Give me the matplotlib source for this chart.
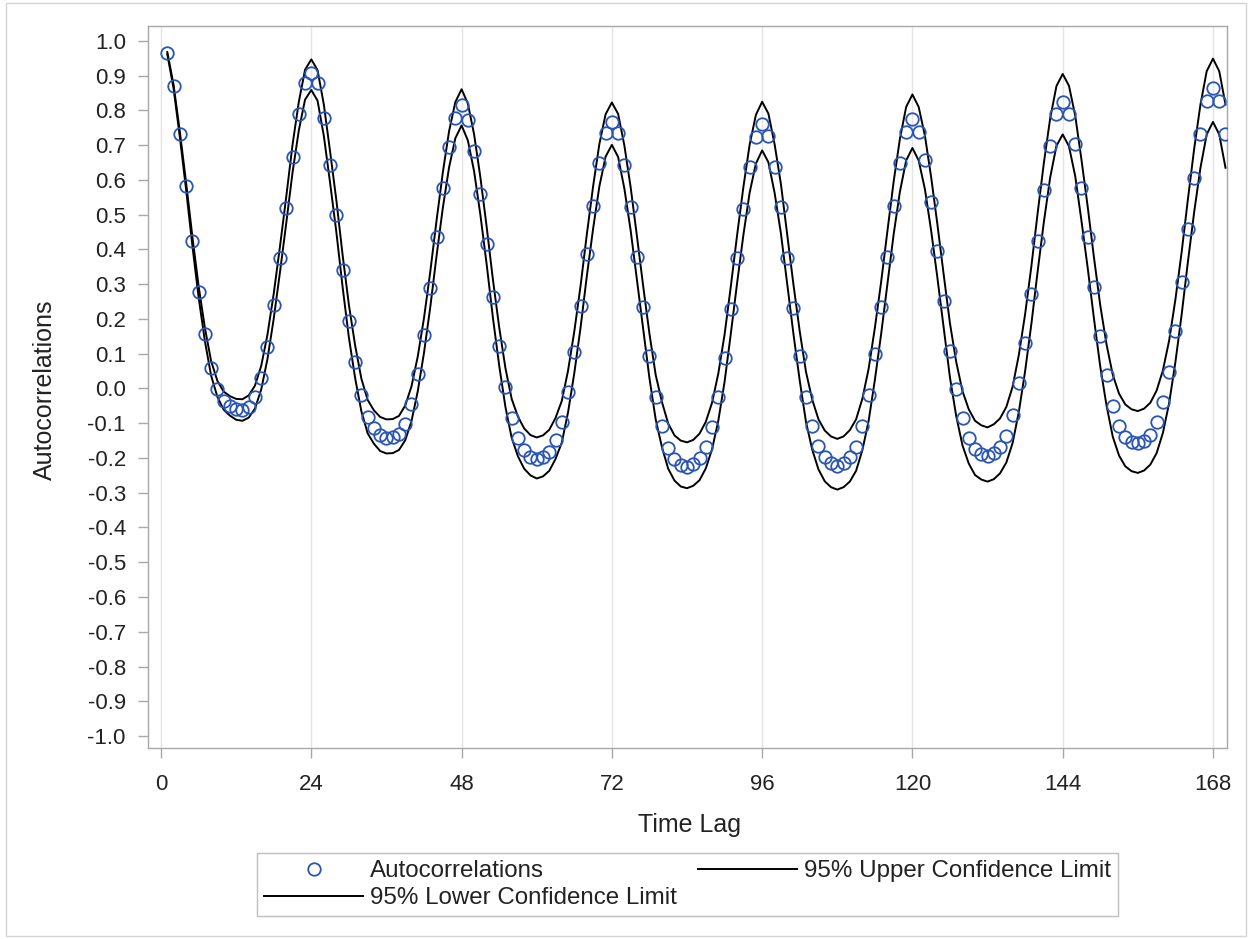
import numpy as np
import matplotlib
matplotlib.use("Agg")
import matplotlib.pyplot as plt
from matplotlib.lines import Line2D
from matplotlib.patches import Rectangle

plt.rcParams['font.family'] = ['Liberation Sans', 'DejaVu Sans']

# lags 1..170
lags = np.arange(1, 171)

acf = [
    0.965, 0.869, 0.732, 0.583, 0.425, 0.279, 0.156, 0.058, -0.001, -0.035,
    -0.050, -0.060, -0.062, -0.052, -0.025, 0.031, 0.120, 0.240, 0.375, 0.520,
    0.667, 0.789, 0.880, 0.909, 0.878, 0.778, 0.643, 0.499, 0.341, 0.194,
    0.077, -0.019, -0.081, -0.115, -0.135, -0.142, -0.141, -0.132, -0.103, -0.044,
    0.042, 0.153, 0.288, 0.435, 0.576, 0.694, 0.778, 0.815, 0.773, 0.684,
    0.560, 0.415, 0.262, 0.122, 0.003, -0.086, -0.142, -0.177, -0.196, -0.204,
    -0.198, -0.182, -0.148, -0.096, -0.009, 0.104, 0.238, 0.386, 0.526, 0.648,
    0.734, 0.768, 0.734, 0.643, 0.523, 0.379, 0.235, 0.094, -0.025, -0.108,
    -0.170, -0.204, -0.220, -0.225, -0.218, -0.201, -0.167, -0.112, -0.025, 0.087,
    0.229, 0.375, 0.516, 0.638, 0.723, 0.761, 0.727, 0.638, 0.523, 0.375,
    0.231, 0.094, -0.024, -0.108, -0.165, -0.198, -0.215, -0.222, -0.215, -0.198,
    -0.167, -0.108, -0.019, 0.099, 0.234, 0.379, 0.525, 0.648, 0.739, 0.775,
    0.739, 0.656, 0.536, 0.397, 0.253, 0.109, -0.002, -0.086, -0.142, -0.175,
    -0.188, -0.194, -0.186, -0.169, -0.137, -0.076, 0.015, 0.132, 0.272, 0.424,
    0.571, 0.698, 0.790, 0.824, 0.790, 0.704, 0.576, 0.437, 0.291, 0.151,
    0.039, -0.050, -0.108, -0.139, -0.153, -0.158, -0.151, -0.134, -0.096, -0.038,
    0.048, 0.166, 0.306, 0.458, 0.605, 0.732, 0.828, 0.864, 0.828, 0.732,
]

upper_cl = [
    0.968, 0.874, 0.740, 0.593, 0.438, 0.295, 0.175, 0.079, 0.022, -0.009,
    -0.022, -0.030, -0.031, -0.020, 0.008, 0.065, 0.155, 0.273, 0.409, 0.552,
    0.701, 0.824, 0.917, 0.947, 0.916, 0.817, 0.682, 0.542, 0.384, 0.241,
    0.124, 0.028, -0.033, -0.063, -0.082, -0.089, -0.088, -0.079, -0.049, 0.006,
    0.092, 0.203, 0.336, 0.483, 0.621, 0.740, 0.824, 0.861, 0.820, 0.731,
    0.608, 0.466, 0.314, 0.177, 0.059, -0.030, -0.081, -0.115, -0.134, -0.141,
    -0.135, -0.119, -0.085, -0.036, 0.051, 0.164, 0.295, 0.443, 0.581, 0.703,
    0.789, 0.823, 0.790, 0.699, 0.579, 0.439, 0.295, 0.158, 0.039, -0.039,
    -0.101, -0.135, -0.150, -0.155, -0.148, -0.130, -0.096, -0.041, 0.043, 0.155,
    0.294, 0.441, 0.579, 0.701, 0.787, 0.825, 0.791, 0.702, 0.588, 0.443,
    0.299, 0.165, 0.048, -0.032, -0.089, -0.121, -0.138, -0.145, -0.138, -0.120,
    -0.089, -0.030, 0.056, 0.174, 0.306, 0.452, 0.595, 0.718, 0.810, 0.846,
    0.810, 0.727, 0.607, 0.471, 0.327, 0.187, 0.076, -0.008, -0.060, -0.093,
    -0.106, -0.112, -0.103, -0.086, -0.053, 0.005, 0.097, 0.214, 0.352, 0.505,
    0.650, 0.777, 0.870, 0.905, 0.871, 0.785, 0.658, 0.522, 0.376, 0.239,
    0.127, 0.039, -0.015, -0.046, -0.060, -0.065, -0.058, -0.041, -0.006, 0.052,
    0.138, 0.256, 0.393, 0.545, 0.690, 0.817, 0.913, 0.949, 0.913, 0.817,
]

lower_cl = [
    0.962, 0.864, 0.724, 0.573, 0.412, 0.263, 0.137, 0.037, -0.024, -0.061,
    -0.078, -0.090, -0.093, -0.084, -0.058, -0.003, 0.085, 0.201, 0.335, 0.476,
    0.621, 0.742, 0.831, 0.859, 0.828, 0.727, 0.592, 0.450, 0.292, 0.147,
    0.030, -0.066, -0.129, -0.159, -0.180, -0.187, -0.186, -0.177, -0.149, -0.094,
    -0.008, 0.103, 0.234, 0.381, 0.519, 0.636, 0.720, 0.757, 0.714, 0.625,
    0.500, 0.358, 0.204, 0.067, -0.053, -0.142, -0.195, -0.231, -0.250, -0.259,
    -0.253, -0.237, -0.203, -0.156, -0.069, 0.044, 0.175, 0.323, 0.459, 0.581,
    0.667, 0.701, 0.666, 0.575, 0.455, 0.313, 0.169, 0.030, -0.089, -0.169,
    -0.231, -0.265, -0.282, -0.287, -0.280, -0.264, -0.230, -0.175, -0.093, 0.019,
    0.158, 0.303, 0.441, 0.563, 0.647, 0.685, 0.651, 0.562, 0.446, 0.301,
    0.157, 0.023, -0.096, -0.176, -0.233, -0.267, -0.284, -0.291, -0.284, -0.268,
    -0.237, -0.178, -0.094, 0.024, 0.156, 0.300, 0.443, 0.566, 0.656, 0.692,
    0.656, 0.573, 0.453, 0.317, 0.173, 0.031, -0.080, -0.164, -0.216, -0.249,
    -0.262, -0.268, -0.261, -0.244, -0.213, -0.157, -0.067, 0.050, 0.186, 0.337,
    0.480, 0.607, 0.698, 0.731, 0.697, 0.611, 0.482, 0.346, 0.200, 0.063,
    -0.049, -0.139, -0.193, -0.224, -0.238, -0.243, -0.236, -0.219, -0.186, -0.128,
    -0.042, 0.076, 0.213, 0.365, 0.508, 0.635, 0.731, 0.767, 0.731, 0.635,
]

x_ticks = [0, 24, 48, 72, 96, 120, 144, 168]
y_ticks = [1.0, 0.9, 0.8, 0.7, 0.6, 0.5, 0.4, 0.3, 0.2, 0.1, 0.0,
           -0.1, -0.2, -0.3, -0.4, -0.5, -0.6, -0.7, -0.8, -0.9, -1.0]
y_tick_labels = ["1.0", "0.9", "0.8", "0.7", "0.6", "0.5", "0.4", "0.3", "0.2", "0.1", "0.0",
                 "-0.1", "-0.2", "-0.3", "-0.4", "-0.5", "-0.6", "-0.7", "-0.8", "-0.9", "-1.0"]

marker_color = '#2a55b5'
frame_color = '#a8a8a8'

W, H = 1251, 939
fig = plt.figure(figsize=(W / 100, H / 100), dpi=100)
ax = fig.add_axes([148 / W, 1 - 748 / H, (1227 - 148) / W, (748 - 26) / H])

# confidence limits first, markers on top
ax.plot(lags, upper_cl, color='black', lw=1.4, zorder=3)
ax.plot(lags, lower_cl, color='black', lw=1.4, zorder=3)
ax.plot(lags, acf, ls='none', marker='o', ms=9, mfc='none',
        mec=marker_color, mew=1.3, zorder=4)

ax.set_xlim(-2.08, 170.24)
ax.set_ylim(-1.0345, 1.043)
ax.set_xticks(x_ticks)
ax.set_yticks(y_ticks)
ax.set_yticklabels(y_tick_labels)

ax.grid(axis='x', color='#e4e4e4', lw=1)
ax.set_axisbelow(True)
for sp in ax.spines.values():
    sp.set_color(frame_color)
    sp.set_linewidth(1)

ax.tick_params(axis='both', color=frame_color, labelcolor='#222222',
               labelsize=16, length=7, width=1)
ax.tick_params(axis='x', pad=12)
ax.tick_params(axis='y', pad=9)

fig.text(689 / W, 1 - 825 / H, 'Time Lag', ha='center', va='center',
         fontsize=18, color='#222222')
fig.text(45 / W, 1 - 390 / H, 'Autocorrelations', rotation=90,
         ha='center', va='center', fontsize=18, color='#222222')

h_acf = Line2D([], [], ls='none', marker='o', ms=9, mfc='none',
               mec=marker_color, mew=1.3)
h_up = Line2D([], [], color='black', lw=1.4)
h_lo = Line2D([], [], color='black', lw=1.4)
leg = ax.legend([h_acf, h_lo, h_up],
                ['Autocorrelations', '95% Lower Confidence Limit',
                 '95% Upper Confidence Limit'],
                ncol=2, loc='upper center',
                bbox_to_anchor=(0.5, (748 - 853) / (748 - 26)),
                fontsize=17.4, frameon=True, fancybox=False,
                edgecolor='#b0b0b0', handlelength=4.1, handletextpad=0.3,
                columnspacing=0.85, borderpad=0.3, labelspacing=0.2,
                borderaxespad=0)
leg.get_frame().set_linewidth(1)
for t in leg.get_texts():
    t.set_color('#222222')

# thin outer border of the graph
fig.patches.append(Rectangle((6 / W, 3 / H), (1246 - 6) / W, (936 - 3) / H,
                             transform=fig.transFigure, fill=False,
                             ec='#d4d4d4', lw=1))

fig.savefig('out.png', dpi=100)
